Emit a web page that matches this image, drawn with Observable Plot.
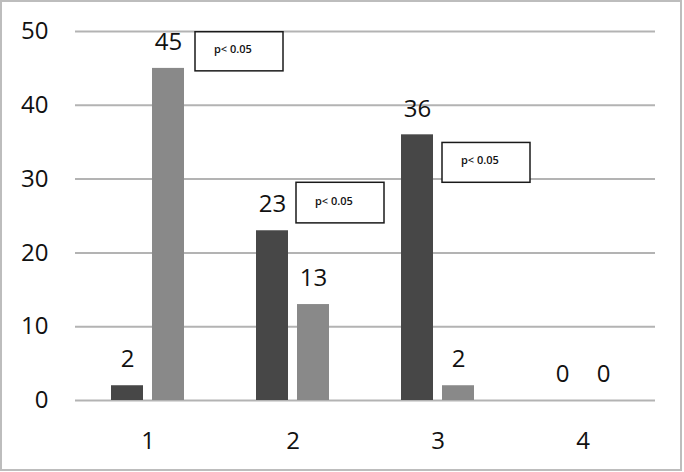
<!DOCTYPE html>
<html><head><meta charset="utf-8">
<script src="https://cdn.jsdelivr.net/npm/d3@7"></script>
<script src="https://cdn.jsdelivr.net/npm/@observablehq/plot@0.6"></script>
<style>
body{margin:0;background:#fff;}
#wrap{position:relative;width:684px;height:472px;}
#frame{position:absolute;left:0;top:0;width:682px;height:471px;border:2px solid #bdbdbd;box-sizing:border-box;pointer-events:none;}
</style></head><body>
<div id="wrap"><div id="frame"></div></div>
<script>
const categories = ["1","2","3","4"];
const seriesNames = ["A","B"];
const valuesA = [2,23,36,0];
const valuesB = [45,13,2,0];
const yTicks = [0,10,20,30,40,50];
const noteCategories = ["1","2","3"];
const noteLabel = "p< 0.05";

const data = [];
categories.forEach((c,i)=>{
  data.push({cat:c, series:"A", value:valuesA[i]});
  data.push({cat:c, series:"B", value:valuesB[i]});
});

// layout of the annotation boxes (y extent in data units, horizontal shift in px)
const noteLayout = [
  {y1:44.6, y2:49.9, dx:43},
  {y1:24.0, y2:29.5, dx:-1},
  {y1:29.5, y2:34.9, dx:0}
];
const noteMarks = [];
noteCategories.forEach((c,i)=>{
  const L = noteLayout[i];
  const d = [{cat:c, y1:L.y1, y2:L.y2, label:noteLabel}];
  noteMarks.push(Plot.barY(d, {fx:"cat", x:()=>"B", y1:"y1", y2:"y2", fill:"white", stroke:"#1a1a1a", strokeWidth:1.5, insetRight:-56, dx:L.dx}));
  noteMarks.push(Plot.text(d, {fx:"cat", x:()=>"B", y:e=>(e.y1+e.y2)/2, text:"label", textAnchor:"start", dx:L.dx+2.5, dy:-2, fontSize:11, fontWeight:600, fill:"#111"}));
});

const chart = Plot.plot({
  width:684, height:472,
  marginLeft:73, marginRight:28, marginTop:31, marginBottom:72,
  style:{fontFamily:"'Open Sans', sans-serif", color:"#111", background:"transparent"},
  fx:{domain:categories, padding:0, label:null},
  x:{domain:seriesNames, paddingInner:0.2143, paddingOuter:0.842, axis:null},
  y:{domain:[0,50], label:null},
  color:{domain:seriesNames, range:["#474747","#898989"]},
  marks:[
    Plot.ruleY(yTicks, {stroke:"#b3b3b3", strokeWidth:2}),
    Plot.axisY(yTicks, {tickSize:0, tickPadding:27, fontSize:24, label:null}),
    Plot.axisFx({anchor:"bottom", tickSize:0, tickPadding:31, fontSize:24, label:null}),
    Plot.barY(data, {fx:"cat", x:"series", y:"value", fill:"series"}),
    Plot.text(data, {fx:"cat", x:"series", y:"value", text:d=>String(d.value), dy:-26, fontSize:24, fill:"#111"}),
    ...noteMarks
  ]
});
document.getElementById("wrap").prepend(chart);
</script>
</body></html>
